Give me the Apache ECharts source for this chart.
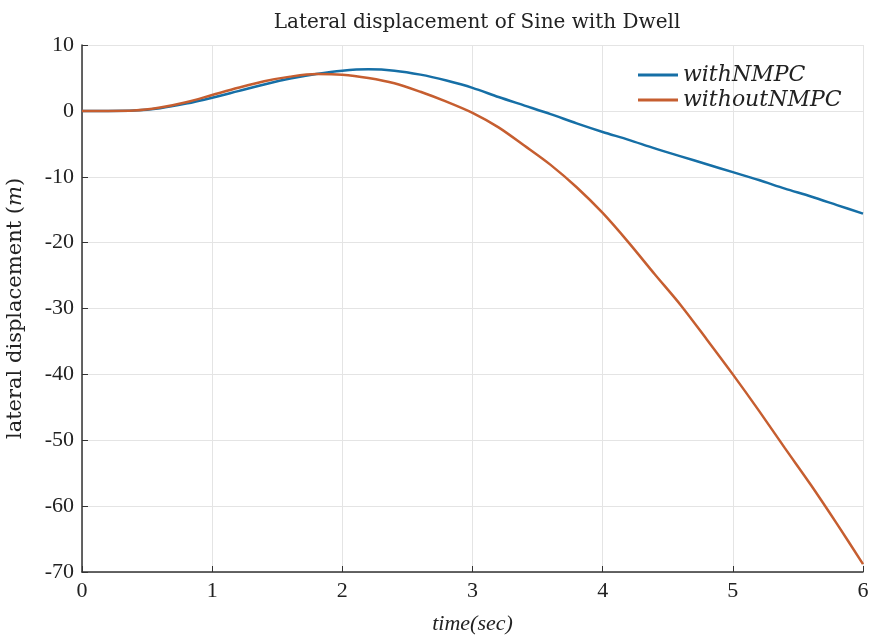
<!DOCTYPE html>
<html>
<head>
<meta charset="utf-8">
<script src="https://cdn.jsdelivr.net/npm/echarts@6/dist/echarts.min.js"></script>
<style>
html,body{margin:0;padding:0;background:#fff;}
#c{width:869px;height:643px;}
</style>
</head>
<body>
<div id="c"></div>
<script>
const time = [0,0.2,0.4,0.6,0.8,1.0,1.2,1.4,1.6,1.8,2.0,2.2,2.4,2.6,2.8,3.0,3.2,3.4,3.6,3.8,4.0,4.2,4.4,4.6,4.8,5.0,5.2,5.4,5.6,5.8,6.0];
const withNMPC = [0,0,0.05,0.4,1.1,2.0,3.0,4.0,4.9,5.6,6.1,6.3,6.1,5.5,4.6,3.5,2.1,0.8,-0.5,-1.9,-3.2,-4.4,-5.7,-6.9,-8.1,-9.3,-10.5,-11.8,-13.0,-14.3,-15.6];
const withoutNMPC = [0,0,0.05,0.5,1.3,2.4,3.5,4.5,5.2,5.6,5.5,5.0,4.2,2.9,1.4,-0.3,-2.5,-5.3,-8.2,-11.6,-15.5,-20.0,-24.8,-29.5,-34.7,-40.0,-45.5,-51.2,-56.8,-62.7,-68.8];
const xTicks = [0,1,2,3,4,5,6];
const yTicks = [10,0,-10,-20,-30,-40,-50,-60,-70];

const SERIF = '"Liberation Serif", serif';
const WIDE = '"DejaVu Serif", serif';
const chart = echarts.init(document.getElementById('c'));
const pairs = (ys) => time.map((t,i)=>[t, ys[i]]);

chart.setOption({
  animation:false,
  backgroundColor:'#fff',
  title:{
    text:'Lateral displacement of Sine with Dwell',
    left:472, top:8, textAlign:'center',
    textStyle:{fontFamily:WIDE,fontSize:20,fontWeight:'normal',color:'#222'}
  },
  legend:{
    orient:'vertical', left:633, top:59, itemWidth:40, itemHeight:3, itemGap:3,
    icon:'rect',
    textStyle:{fontFamily:WIDE,fontSize:22,fontStyle:'italic',color:'#222'},
    data:['withNMPC','withoutNMPC']
  },
  grid:{left:82,right:6,top:45,bottom:71,containLabel:false,outerBoundsMode:'none'},
  xAxis:{
    type:'value', min:0, max:6, interval:1,
    name:'time(sec)', nameLocation:'middle', nameGap:41,
    nameTextStyle:{fontFamily:SERIF,fontSize:22,fontStyle:'italic',color:'#222'},
    axisLine:{show:true,onZero:false,lineStyle:{color:'#333',width:1.5}},
    axisTick:{show:true,inside:true,length:6,lineStyle:{color:'#333'}},
    axisLabel:{fontFamily:SERIF,fontSize:22,color:'#222',margin:8,formatter:v=>String(v)},
    splitLine:{show:true,lineStyle:{color:'#e4e4e4',width:1}}
  },
  yAxis:{
    type:'value', min:-70, max:10, interval:10,
    name:'lateral displacement ({i|m})', nameLocation:'middle', nameGap:56,
    nameTextStyle:{fontFamily:WIDE,fontSize:21,color:'#222',
      rich:{i:{fontFamily:WIDE,fontSize:21,fontStyle:'italic',color:'#222'}}},
    axisLine:{show:true,onZero:false,lineStyle:{color:'#333',width:1.5}},
    axisTick:{show:true,inside:true,length:6,lineStyle:{color:'#333'}},
    axisLabel:{fontFamily:SERIF,fontSize:22,color:'#222',margin:8,formatter:v=>String(v)},
    splitLine:{show:true,lineStyle:{color:'#e4e4e4',width:1}}
  },
  series:[
    {name:'withNMPC',type:'line',data:pairs(withNMPC),smooth:0.3,symbol:'none',
     lineStyle:{color:'#166fa6',width:2.5},itemStyle:{color:'#166fa6'}},
    {name:'withoutNMPC',type:'line',data:pairs(withoutNMPC),smooth:0.3,symbol:'none',
     lineStyle:{color:'#c65e30',width:2.5},itemStyle:{color:'#c65e30'}}
  ]
});
</script>
</body>
</html>
